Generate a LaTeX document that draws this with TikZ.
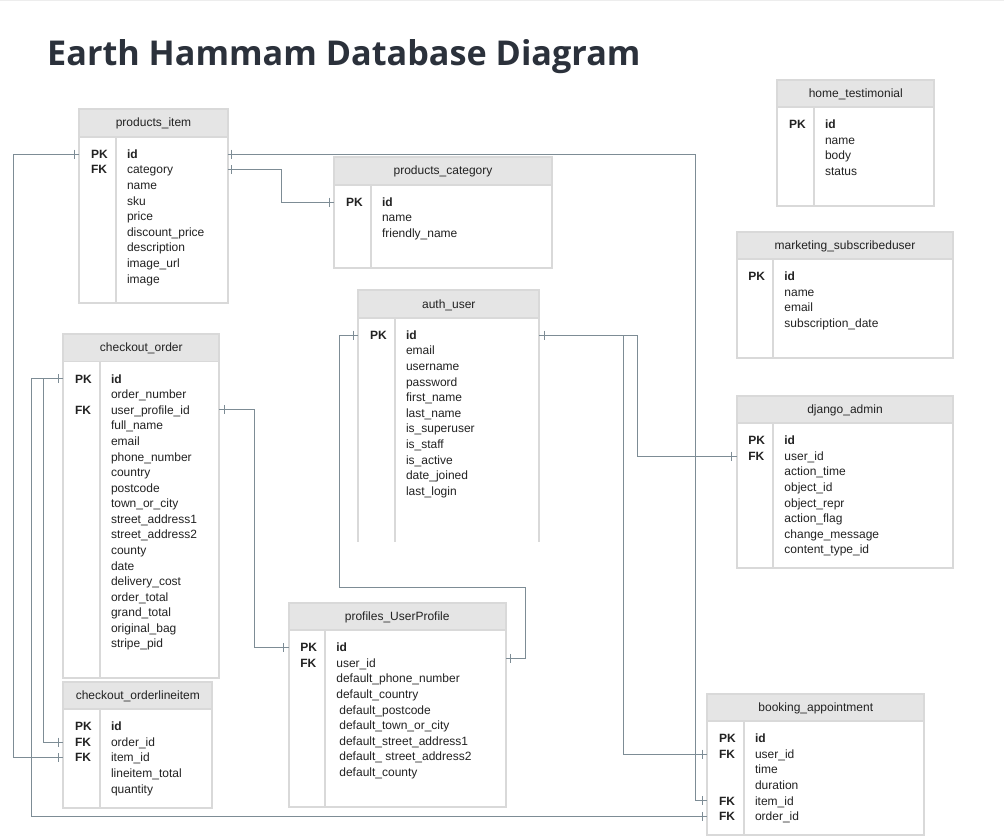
\documentclass[tikz,border=0pt]{standalone}
\usepackage{fontspec}
\setmainfont{Liberation Sans}
\newfontfamily\titlefont{Open Sans}
\usetikzlibrary{calc}
\definecolor{tblborder}{HTML}{D9D9D9}
\definecolor{hdrfill}{HTML}{E5E5E5}
\definecolor{txt}{HTML}{222222}
\definecolor{connc}{HTML}{7D8C95}
\definecolor{titlec}{HTML}{2B313B}
\tikzset{
 tbl/.style={draw=tblborder, line width=1.8pt, fill=white, inner sep=0pt, outer sep=0pt},
 hdr/.style={draw=tblborder, line width=1.8pt, fill=hdrfill, inner sep=0pt, outer sep=0pt},
 tblline/.style={draw=tblborder, line width=1.8pt},
 ttl/.style={anchor=base, inner sep=0pt, text=txt, font=\fontsize{12}{14}\selectfont},
 fld/.style={anchor=base west, inner sep=0pt, text=txt, font=\fontsize{12}{14}\selectfont},
 keyl/.style={anchor=base west, inner sep=0pt, text=txt, font=\fontsize{12}{14}\selectfont\bfseries},
 conn/.style={draw=connc, line width=1pt},
}
\newcommand\erdtable[8]{%
 \node[tbl, anchor=north west, minimum width={#4pt-#2pt}, minimum height={#5pt-#3pt}] (#1) at (#2,#3) {};
 \node[hdr, anchor=north west, minimum width={#4pt-#2pt}, minimum height=27.5pt] (#1-h) at (#2,#3) {};
 \node[ttl] (#1-t) at ({(#2+#4)/2},{#3+17.7}) {#6};
 \draw[tblline] ({#2+36.5},{#3+27.5}) -- ({#2+36.5},#5);
 \foreach \r/\k in {#7} {\node[keyl] (#1-k\r) at ({#2+11.5},{#3+49.1+\r*15.58}) {\k};}
 \foreach \f [count=\i from 0] in {#8} {
   \node[fld] (#1-f\i) at ({#2+47.5},{#3+49.1+\i*15.58}) {\f};
   \coordinate (#1-r\i-w) at ({#2},{#3+44.8+\i*15.58});
   \coordinate (#1-r\i-e) at ({#4},{#3+44.8+\i*15.58});
 }
}
\newcommand\tickat[2]{\draw[conn] ($(#1)+(#2,-4.5)$) -- ++(0,9);}
\begin{document}
\begin{tikzpicture}[x=1pt,y=-1pt]
\useasboundingbox (0,0) rectangle (1004,840);
\fill[black!7] (0,0) rectangle (1004,1.5);
\node[anchor=base west, inner sep=0pt, text=titlec, font=\titlefont\bfseries\fontsize{34.2}{40}\selectfont] (title) at (47,66) {Earth Hammam Database Diagram};

\erdtable{pi}{79.3}{109.3}{227.7}{302.7}{products\_item}{0/PK,1/FK}{\textbf{id},category,name,sku,price,discount\_price,description,image\_url,image}
\erdtable{pc}{334.3}{157.3}{551.7}{267.7}{products\_category}{0/PK}{\textbf{id},name,friendly\_name}
\erdtable{au}{358.3}{290.3}{539.3}{543}{auth\_user}{0/PK}{\textbf{id},email,username,password,first\_name,last\_name,is\_superuser,is\_staff,is\_active,date\_joined,last\_login}
\draw[white, line width=3pt] (356,543.5) -- (542,543.5);
\erdtable{co}{63.3}{334}{219.3}{677.7}{checkout\_order}{0/PK,2/FK}{\textbf{id},order\_number,user\_profile\_id,full\_name,email,phone\_number,country,postcode,town\_or\_city,street\_address1,street\_address2,county,date,delivery\_cost,order\_total,grand\_total,original\_bag,stripe\_pid}
\erdtable{ol}{63.3}{681.7}{212.3}{807.7}{checkout\_orderlineitem}{0/PK,1/FK,2/FK}{\textbf{id},order\_id,item\_id,lineitem\_total,quantity}
\erdtable{pr}{288.7}{602.7}{505.7}{807.3}{profiles\_UserProfile}{0/PK,1/FK}{\textbf{id},user\_id,default\_phone\_number,default\_country,\hspace*{3pt}default\_postcode,\hspace*{3pt}default\_town\_or\_city,\hspace*{3pt}default\_street\_address1,\hspace*{3pt}default\_ street\_address2,\hspace*{3pt}default\_county}
\erdtable{bk}{707.3}{693.7}{924.3}{835}{booking\_appointment}{0/PK,1/FK,4/FK,5/FK}{\textbf{id},user\_id,time,duration,item\_id,order\_id}
\erdtable{dj}{736.7}{395.7}{953.3}{567.7}{django\_admin}{0/PK,1/FK}{\textbf{id},user\_id,action\_time,object\_id,object\_repr,action\_flag,change\_message,content\_type\_id}
\erdtable{ht}{777.3}{79.7}{934.3}{206}{home\_testimonial}{0/PK}{\textbf{id},name,body,status}
\erdtable{ms}{736.7}{231.7}{953.3}{357.7}{marketing\_subscribeduser}{0/PK}{\textbf{id},name,email,subscription\_date}

\coordinate (railA) at (13.3,0);
\coordinate (railB) at (281.7,0);
\coordinate (railC) at (43.3,0);
\coordinate (railD) at (31,0);
\coordinate (railE) at (254,0);
\coordinate (railF) at (339.7,0);
\coordinate (railG) at (695.7,0);
\coordinate (railH) at (637.7,0);
\coordinate (railI) at (623.3,0);
\coordinate (c7a) at (525.3,587.7);
\coordinate (pr-uid) at ($(pr-r1-e)+(0,-4.7)$);

\draw[conn] (pi-r0-w) -- (pi-r0-w -| railA) |- (ol-r2-w);
\draw[conn] (pi-r0-e) -- (pi-r0-e -| railG) |- (bk-r4-w);
\draw[conn] (pi-r1-e) -- (pi-r1-e -| railB) |- (pc-r0-w);
\draw[conn] (co-r0-w) -- (co-r0-w -| railC) |- (ol-r1-w);
\draw[conn] (co-r0-w -| railC) -- (co-r0-w -| railD) |- (bk-r5-w);
\draw[conn] (co-r2-e) -- (co-r2-e -| railE) |- (pr-r0-w);
\draw[conn] (au-r0-w) -- (au-r0-w -| railF) |- (c7a) |- (pr-uid);
\draw[conn] (au-r0-e) -- (au-r0-e -| railH) |- (dj-r1-w);
\draw[conn] (au-r0-e -| railI) |- (bk-r1-w);

\tickat{pi-r0-w}{-5.3}
\tickat{ol-r2-w}{-5}
\tickat{pi-r0-e}{3.5}
\tickat{bk-r4-w}{-5.3}
\tickat{pi-r1-e}{3.5}
\tickat{pc-r0-w}{-5}
\tickat{co-r0-w}{-5}
\tickat{ol-r1-w}{-5}
\tickat{bk-r5-w}{-5.3}
\tickat{co-r2-e}{4.7}
\tickat{pr-r0-w}{-5.3}
\tickat{au-r0-w}{-5}
\tickat{pr-uid}{4.6}
\tickat{au-r0-e}{5}
\tickat{dj-r1-w}{-5}
\tickat{bk-r1-w}{-5.3}
\end{tikzpicture}
\end{document}
